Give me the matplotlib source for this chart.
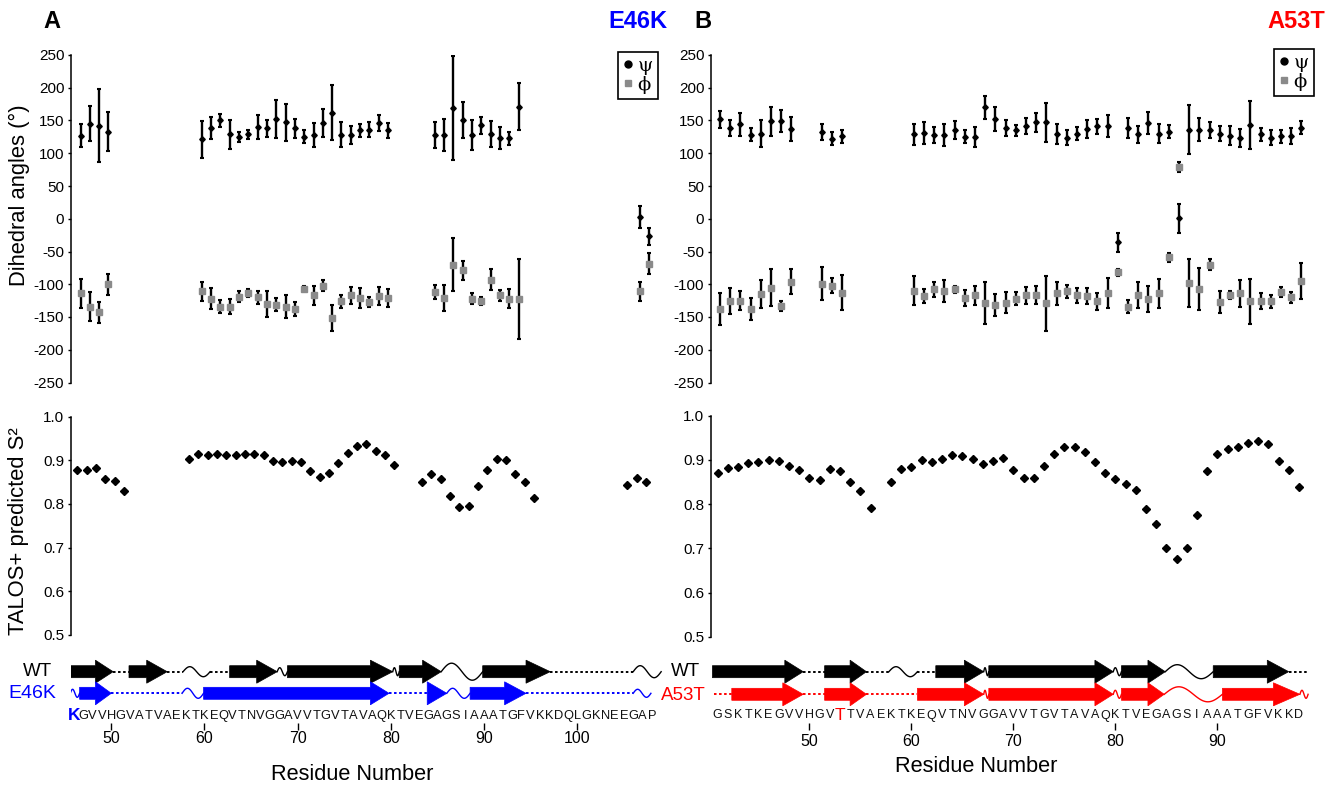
import matplotlib
matplotlib.use('Agg')
import matplotlib.pyplot as plt
import numpy as np
from matplotlib.patches import Polygon
from matplotlib.lines import Line2D
from matplotlib.font_manager import FontProperties

plt.rcParams['font.family'] = ['Liberation Sans', 'DejaVu Sans']
plt.rcParams['axes.unicode_minus'] = False

# ---------------- data ----------------
# Panel A (E46K)
A_dih_res = [46, 47, 48, 49,
             59, 60, 61, 62, 63, 64, 65, 66, 67, 68, 69, 70, 71, 72, 73, 74, 75, 76, 77, 78, 79,
             84, 85, 86, 87, 88, 89, 90, 91, 92, 93,
             106, 107]
A_psi = [127, 145, 142, 133,
         121, 139, 150, 129, 125, 129, 140, 138, 152, 147, 138, 125, 128, 146, 162, 128, 128, 135, 136, 146, 135,
         128, 128, 169, 151, 128, 143, 129, 123, 123, 171,
         3, -27]
A_psi_err = [17, 27, 56, 30,
             28, 17, 10, 22, 8, 7, 18, 13, 29, 28, 15, 10, 18, 21, 42, 19, 14, 10, 11, 12, 11,
             20, 24, 80, 27, 23, 13, 20, 17, 10, 36,
             17, 13]
A_phi = [-114, -134, -143, -100,
         -111, -122, -134, -134, -119, -114, -120, -130, -131, -134, -138, -107, -117, -102, -151, -126, -117, -121, -127, -118, -121,
         -112, -121, -70, -79, -122, -126, -93, -117, -122, -123,
         -111, -69]
A_phi_err = [22, 22, 16, 16,
             14, 16, 10, 12, 8, 6, 10, 20, 10, 17, 11, 4, 14, 8, 20, 10, 13, 16, 7, 14, 13,
             11, 20, 40, 14, 8, 6, 16, 8, 14, 61,
             14, 16]
A_s2_res = [46, 47, 48, 49, 50, 51,
            58, 59, 60, 61, 62, 63, 64, 65, 66, 67, 68, 69, 70, 71, 72, 73, 74, 75, 76, 77, 78, 79, 80,
            83, 84, 85, 86, 87, 88, 89, 90, 91, 92, 93, 94, 95,
            105, 106, 107]
A_s2 = [0.878, 0.877, 0.883, 0.858, 0.852, 0.829,
        0.902, 0.914, 0.912, 0.915, 0.911, 0.912, 0.914, 0.915, 0.911, 0.898, 0.895, 0.898, 0.895, 0.876,
        0.862, 0.871, 0.894, 0.917, 0.933, 0.936, 0.920, 0.911, 0.890,
        0.850, 0.868, 0.856, 0.819, 0.794, 0.795, 0.840, 0.877, 0.902, 0.900, 0.869, 0.850, 0.813,
        0.844, 0.860, 0.849]
A_seq_start = 46
A_seq = "KGVVHGVATVAEKTKEQVTNVGGAVVTGVTAVAQKTVEGAGSIAAATGFVKKDQLGKNEEGAP"
A_ticks = [50, 60, 70, 80, 90, 100]

# secondary structure: strands (start, end, head start), coils (start, end), helices (start, end, amplitude)
A_wt_strand = [(45.6, 50.2, 48.3), (51.9, 56.0, 53.8), (62.7, 67.8, 65.6),
               (68.9, 80.2, 77.8), (80.9, 85.4, 83.4), (89.85, 97.1, 94.5)]
A_wt_coil = [(50.2, 51.9), (56.0, 57.7), (60.6, 62.7), (97.1, 106.0)]
A_wt_wave = [(57.7, 60.6, 5), (67.8, 68.9, 4), (80.2, 80.9, 4), (85.4, 89.85, 8.5), (106.0, 109.0, 6)]
A_mut_strand = [(46.6, 50.0, 48.3), (59.9, 79.8, 77.8), (83.9, 86.0, 83.9), (88.5, 94.5, 92.2)]
A_mut_coil = [(50.0, 57.6), (79.8, 83.9), (94.5, 106.0)]
A_mut_wave = [(45.6, 46.6, 4), (57.6, 59.9, 5), (86.0, 88.5, 5), (106.0, 107.9, 4)]

# Panel B (A53T)
B_dih_res = [41, 42, 43, 44, 45, 46, 47, 48,
             51, 52, 53,
             60, 61, 62, 63, 64, 65, 66, 67, 68, 69, 70, 71, 72, 73, 74, 75, 76, 77, 78, 79,
             80, 81, 82, 83, 84, 85, 86, 87, 88, 89, 90, 91, 92, 93, 94, 95, 96, 97, 98]
B_psi = [152, 139, 144, 128, 130, 149, 149, 137,
         132, 122, 126,
         129, 131, 128, 128, 135, 125, 125, 170, 152, 138, 135, 142, 147, 147, 129, 124, 130, 137, 141, 142,
         -36, 139, 129, 146, 130, 133, 1, 136, 136, 136, 130, 127, 123, 143, 129, 124, 126, 126, 139]
B_psi_err = [13, 12, 17, 10, 20, 22, 17, 18,
             12, 10, 10,
             16, 17, 12, 17, 14, 10, 15, 18, 18, 12, 8, 12, 15, 30, 15, 12, 10, 14, 12, 17,
             15, 15, 13, 17, 15, 10, 22, 37, 18, 12, 12, 14, 14, 37, 10, 12, 10, 12, 10]
B_phi = [-138, -125, -125, -138, -115, -105, -133, -96,
         -99, -102, -113,
         -110, -118, -108, -110, -108, -121, -117, -128, -132, -128, -122, -117, -116, -129, -114, -111, -117, -118, -126, -113,
         -82, -134, -117, -122, -114, -59, 79, -98, -107, -70, -127, -117, -114, -126, -126, -126, -112, -120, -95]
B_phi_err = [24, 20, 14, 17, 22, 28, 8, 19,
             25, 12, 27,
             22, 10, 12, 17, 6, 12, 14, 32, 17, 16, 10, 13, 14, 42, 17, 10, 12, 12, 13, 23,
             6, 10, 20, 20, 22, 7, 8, 37, 32, 8, 17, 6, 20, 34, 12, 10, 8, 8, 28]
B_s2_res = [41, 42, 43, 44, 45, 46, 47, 48, 49, 50, 51, 52, 53, 54, 55, 56,
            58, 59, 60, 61, 62, 63, 64, 65, 66, 67, 68, 69, 70, 71, 72, 73, 74, 75, 76, 77, 78,
            79, 80, 81, 82, 83, 84, 85, 86, 87, 88, 89, 90, 91, 92, 93, 94, 95, 96, 97, 98]
B_s2 = [0.871, 0.882, 0.883, 0.892, 0.894, 0.900, 0.898, 0.886, 0.877, 0.860, 0.855, 0.879, 0.875, 0.851, 0.829, 0.792,
        0.851, 0.880, 0.883, 0.900, 0.896, 0.902, 0.910, 0.909, 0.902, 0.890, 0.898, 0.905, 0.876, 0.859,
        0.859, 0.887, 0.914, 0.929, 0.930, 0.918, 0.894, 0.870, 0.857, 0.846, 0.832, 0.789, 0.756, 0.700,
        0.675, 0.700, 0.775, 0.875, 0.912, 0.925, 0.930, 0.938, 0.942, 0.935, 0.897, 0.876, 0.838]
B_seq_start = 41
B_seq = "GSKTKEGVVHGVTTVAEKTKEQVTNVGGAVVTGVTAVAQKTVEGAGSIAAATGFVKKD"
B_ticks = [50, 60, 70, 80, 90]

B_wt_strand = [(40.5, 49.4, 47.6), (51.5, 55.6, 54.0), (62.4, 67.1, 65.2),
               (67.6, 79.8, 78.0), (80.6, 84.9, 83.2), (89.6, 97.0, 94.9)]
B_wt_coil = [(49.4, 51.5), (55.6, 57.8), (60.6, 62.4), (97.0, 98.9)]
B_wt_wave = [(57.8, 60.6, 5), (67.1, 67.6, 4), (79.8, 80.6, 4), (84.9, 89.6, 7)]
B_mut_strand = [(42.4, 49.4, 47.4), (51.5, 55.6, 54.0), (60.6, 67.1, 65.2),
                (67.6, 79.8, 78.0), (80.6, 84.8, 83.2), (90.5, 98.1, 95.5)]
B_mut_coil = [(40.7, 42.4), (49.4, 51.5), (55.6, 60.6)]
B_mut_wave = [(67.1, 67.6, 4), (79.8, 80.6, 4), (84.8, 90.5, 7.5), (98.1, 98.9, 4)]

# ---------------- figure ----------------
W, H = 1329, 786
fig = plt.figure(figsize=(W / 100, H / 100), dpi=100)

BLUE = '#0000FF'
RED = '#FF0000'
GRAY = '#8a8a8a'


def ax_px(x0, y0, x1, y1):
    return fig.add_axes([x0 / W, 1 - y1 / H, (x1 - x0) / W, (y1 - y0) / H])


def xlim_for(L, R, p0, r0, s):
    return (r0 + (L - p0) / s, r0 + (R - p0) / s)


def style_left(ax):
    for sp in ['top', 'right', 'bottom']:
        ax.spines[sp].set_visible(False)
    ax.spines['left'].set_linewidth(1.1)
    ax.tick_params(axis='y', direction='out', length=2.5, width=1.0, labelsize=11, pad=2)
    ax.set_xticks([])
    ax.patch.set_alpha(0)


def draw_strand(ax, x0, x1, xh, y, color):
    bh, hh = 6.0, 11.5
    pts = [(x0, y - bh), (xh, y - bh), (xh, y - hh), (x1, y), (xh, y + hh), (xh, y + bh), (x0, y + bh)]
    ax.add_patch(Polygon(pts, closed=True, fc=color, ec=color, lw=0.5))


def draw_wave(ax, x0, x1, y, amp, color):
    t = np.linspace(0, 1, 120)
    ax.plot(x0 + (x1 - x0) * t, y - amp * np.sin(2 * np.pi * t), color=color, lw=1.0)


def draw_coil(ax, x0, x1, y, color):
    ax.plot([x0, x1], [y, y], color=color, lw=1.4, ls=(0, (1.3, 1.3)))


def panel(L, R, s, top_p0, mid_p0, bot_p0, r0, res_d, psi, psi_e, phi, phi_e,
          s2_res, s2, mid_y, seq, seq_start, ticks, wt, mut, mut_color,
          rows_y, seq_y, special, special_kw, seq_size, tick_pad, legend_xy):
    # dihedral
    ax1 = ax_px(L, 55, R, 382.5)
    ax1.set_xlim(*xlim_for(L, R, top_p0, r0, s))
    ax1.set_ylim(-250, 250)
    ax1.set_yticks(range(-250, 251, 50))
    style_left(ax1)
    ax1.errorbar(res_d, psi, yerr=psi_e, fmt='none', ecolor='black', elinewidth=1.7,
                 capsize=1.6, capthick=1.5, zorder=2)
    ax1.errorbar(res_d, phi, yerr=phi_e, fmt='none', ecolor='black', elinewidth=1.7,
                 capsize=1.6, capthick=1.5, zorder=2)
    ax1.plot(res_d, psi, ls='none', marker='D', ms=2.8, mfc='black', mec='black', zorder=3)
    ax1.plot(res_d, phi, ls='none', marker='s', ms=4.3, mfc=GRAY, mec=GRAY, zorder=3)
    handles = [Line2D([], [], ls='none', marker='o', ms=5, mfc='black', mec='black'),
               Line2D([], [], ls='none', marker='s', ms=4.5, mfc=GRAY, mec=GRAY)]
    leg = fig.legend(handles, ['ψ', 'ϕ'], loc='upper left',
                     bbox_to_anchor=(legend_xy[0] / W, 1 - legend_xy[1] / H),
                     prop=FontProperties(family=['DejaVu Serif'], size=14),
                     frameon=True, fancybox=False, edgecolor='black', framealpha=1,
                     handlelength=0.5, handletextpad=0.25, borderpad=0.25,
                     labelspacing=0.05, borderaxespad=0)
    leg.get_frame().set_linewidth(1.2)

    # S2
    ax2 = ax_px(L, mid_y[0], R, mid_y[1])
    ax2.set_xlim(*xlim_for(L, R, mid_p0, r0, s))
    ax2.set_ylim(0.5, 1.0)
    ax2.set_yticks([0.5, 0.6, 0.7, 0.8, 0.9, 1.0])
    ax2.set_yticklabels(['0.5', '0.6', '0.7', '0.8', '0.9', '1.0'])
    style_left(ax2)
    ax2.plot(s2_res, s2, ls='none', marker='D', ms=3.9, mfc='black', mec='black')

    # secondary structure + sequence
    ax3 = ax_px(L, 650, R, 723)
    ax3.set_xlim(*xlim_for(L, R, bot_p0, r0, s))
    ax3.set_ylim(73, 0)
    for sp in ['top', 'right', 'left', 'bottom']:
        ax3.spines[sp].set_visible(False)
    ax3.set_yticks([])
    ax3.set_xticks(ticks)
    ax3.tick_params(axis='x', direction='out', length=5, width=1.0, labelsize=11.5, pad=tick_pad)
    ax3.patch.set_alpha(0)
    for row, (strands, coils, waves), color in [(rows_y[0], wt, 'black'), (rows_y[1], mut, mut_color)]:
        for c in coils:
            draw_coil(ax3, c[0], c[1], row, color)
        for w in waves:
            draw_wave(ax3, w[0], w[1], row, w[2], color)
        for st in strands:
            draw_strand(ax3, st[0], st[1], st[2], row, color)
    for i, ch in enumerate(seq):
        r = seq_start + i
        if r == special:
            ax3.text(r, seq_y, ch, ha='center', va='center', clip_on=False, **special_kw)
        else:
            ax3.text(r, seq_y, ch, ha='center', va='center', fontsize=seq_size, color='#111111', clip_on=False)
    return ax1, ax2, ax3


sA = 9.32
panel(70.5, 665, sA, 80.5, 77.3, 74.0, 46, A_dih_res, A_psi, A_psi_err, A_phi, A_phi_err,
      A_s2_res, A_s2, (416.5, 635), A_seq, A_seq_start, A_ticks,
      (A_wt_strand, A_wt_coil, A_wt_wave), (A_mut_strand, A_mut_coil, A_mut_wave), BLUE,
      (21.7, 43.3), 66.0, 46, dict(fontsize=12.5, fontweight='bold', color=BLUE), 9.3, 1.0, (618, 52))

sB = 10.2
panel(710.5, 1315, sB, 720.0, 717.5, 717.5, 41, B_dih_res, B_psi, B_psi_err, B_phi, B_phi_err,
      B_s2_res, B_s2, (415.5, 637), B_seq, B_seq_start, B_ticks,
      (B_wt_strand, B_wt_coil, B_wt_wave), (B_mut_strand, B_mut_coil, B_mut_wave), RED,
      (21.7, 44.3), 65.5, 53, dict(fontsize=12.5, color=RED), 9.0, 3.0, (1274, 49))


def ftext(x, y, s, **kw):
    fig.text(x / W, 1 - y / H, s, **kw)


ftext(52, 22, 'A', fontsize=17, fontweight='bold', ha='center', va='center')
ftext(638, 22, 'E46K', fontsize=17, fontweight='bold', color=BLUE, ha='center', va='center')
ftext(703, 22, 'B', fontsize=17, fontweight='bold', ha='center', va='center')
ftext(1296, 22, 'A53T', fontsize=17, fontweight='bold', color=RED, ha='center', va='center')

ftext(19, 195, 'Dihedral angles (°)', fontsize=15.8, rotation=90, ha='center', va='center')
ftext(19, 531, 'TALOS+ predicted S²', fontsize=15.8, rotation=90, ha='center', va='center')

ftext(37, 672, 'WT', fontsize=13.5, ha='center', va='center')
ftext(32, 694, 'E46K', fontsize=14, color=BLUE, ha='center', va='center')
ftext(685, 672, 'WT', fontsize=13.5, ha='center', va='center')
ftext(683, 695, 'A53T', fontsize=13.5, color=RED, ha='center', va='center')

ftext(352, 774, 'Residue Number', fontsize=15.7, ha='center', va='center')
ftext(976, 767, 'Residue Number', fontsize=15.7, ha='center', va='center')

fig.savefig('out.png', dpi=100)
